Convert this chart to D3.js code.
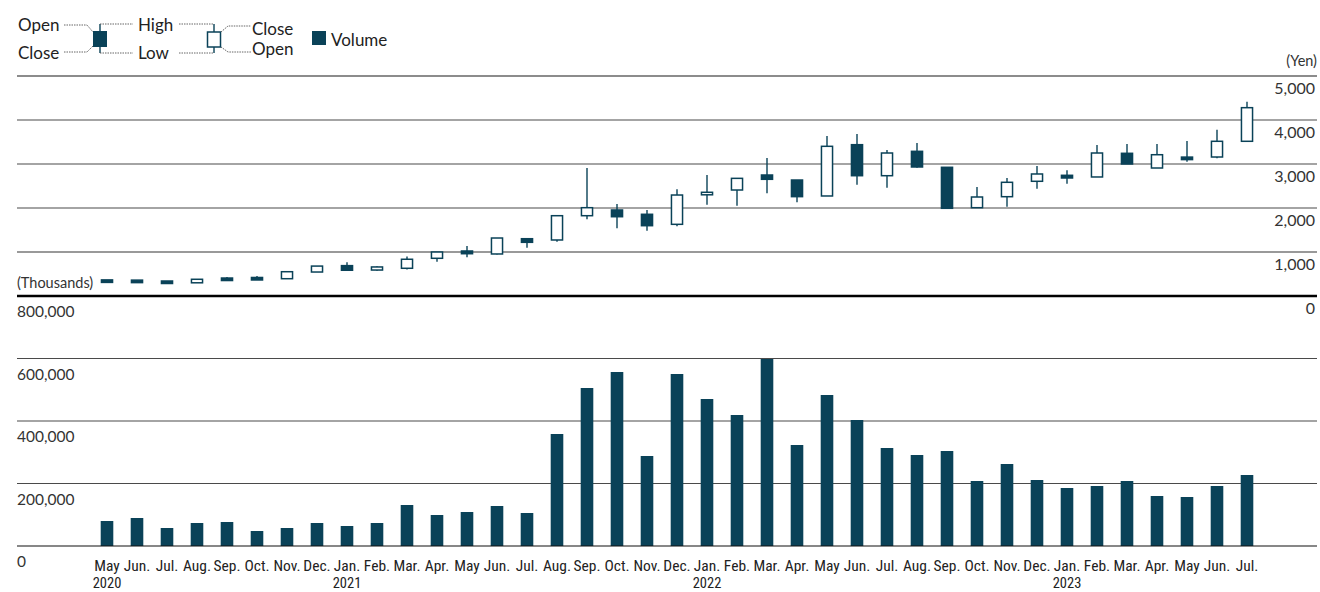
<!DOCTYPE html>
<html>
<head>
<meta charset="utf-8">
<script src="https://cdn.jsdelivr.net/npm/d3@7"></script>
<style>
  body { margin: 0; background: #fff; }
  svg { display: block; font-family: Lato, "Open Sans", sans-serif; }
  .month { font-family: "Liberation Sans Narrow", "Roboto Condensed", Lato, sans-serif; }
</style>
</head>
<body>
<div id="chart"></div>
<script>
// Monthly candles, May 2020 - Jul 2023
var months = ["May", "Jun.", "Jul.", "Aug.", "Sep.", "Oct.", "Nov.", "Dec.",
    "Jan.", "Feb.", "Mar.", "Apr.", "May", "Jun.", "Jul.", "Aug.", "Sep.", "Oct.", "Nov.", "Dec.",
    "Jan.", "Feb.", "Mar.", "Apr.", "May", "Jun.", "Jul.", "Aug.", "Sep.", "Oct.", "Nov.", "Dec.",
    "Jan.", "Feb.", "Mar.", "Apr.", "May", "Jun.", "Jul."];
var years = ["2020", "", "", "", "", "", "", "",
    "2021", "", "", "", "", "", "", "", "", "", "", "",
    "2022", "", "", "", "", "", "", "", "", "", "", "",
    "2023", "", "", "", "", "", ""];

var open = [345, 340, 320, 300, 390, 400, 393, 545,
    690, 590, 630, 857, 1023, 955, 1302, 1273, 1825, 1955, 1857, 1629,
    2300, 2409, 2750, 2636, 2273, 3439, 2734, 3288, 2925, 2007, 2257, 2607,
    2743, 2705, 3243, 2909, 3143, 3159, 3516];
var close = [330, 325, 305, 380, 370, 385, 552, 680,
    585, 660, 835, 1000, 961, 1318, 1220, 1825, 2007, 1802, 1598, 2295,
    2357, 2674, 2652, 2258, 3402, 2734, 3250, 2932, 1993, 2250, 2584, 2773,
    2682, 3250, 3000, 3211, 3114, 3516, 4280];
var high = [365, 355, 330, 385, 430, 455, 552, 680,
    765, 675, 900, 1000, 1136, 1318, 1302, 1840, 2909, 2090, 1955, 2424,
    2750, 2674, 3136, 2636, 3636, 3682, 3318, 3477, 2925, 2477, 2682, 2955,
    2856, 3432, 3455, 3455, 3523, 3780, 4416];
var low = [315, 315, 285, 295, 365, 380, 393, 545,
    585, 575, 600, 780, 880, 945, 1098, 1235, 1743, 1538, 1485, 1584,
    2075, 2052, 2334, 2129, 2273, 2530, 2462, 2916, 1993, 2007, 2030, 2439,
    2553, 2705, 3000, 2909, 3052, 3129, 3516];
// thousands of shares
var volume = [80000, 89600, 57600, 73600, 76800, 48000, 57600, 73600,
    64000, 73600, 131200, 99200, 108800, 128000, 105600, 358400, 505600, 556800, 288000, 550400,
    470400, 419200, 598400, 323200, 483200, 403200, 313600, 291200, 304000, 208000, 262400, 211200,
    185600, 192000, 208000, 160000, 156800, 192000, 227200];

var priceTicks = [0, 1000, 2000, 3000, 4000, 5000];
var volumeTicks = [0, 200000, 400000, 600000, 800000];

var W = 1320, H = 592;
var dark = "#0a4258";
var left = 17, right = 1317;

var svg = d3.select("#chart").append("svg")
    .attr("width", W)
    .attr("height", H);

var x = d3.scaleBand()
    .domain(d3.range(months.length))
    .range([92, 1262])
    .paddingInner(0.58)
    .paddingOuter(0.29);

var yP = d3.scaleLinear().domain([0, 5000]).range([296, 76]);
var yV = d3.scaleLinear().domain([0, 800000]).range([546, 296]);
var fmt = d3.format(",");

// price grid
svg.selectAll("line.pgrid")
    .data(priceTicks.filter(function(d) { return d > 0; }))
    .enter().append("line")
    .attr("class", "pgrid")
    .attr("x1", left).attr("x2", right)
    .attr("y1", function(d) { return yP(d); })
    .attr("y2", function(d) { return yP(d); })
    .attr("stroke", function(d) { return d == 5000 ? "#1a1a1a" : (d == 1000 ? "#777" : "#4a4a4a"); })
    .attr("stroke-width", function(d) { return d == 1000 ? 1.5 : 1.1; });

svg.selectAll("text.plab")
    .data(priceTicks)
    .enter().append("text")
    .attr("class", "plab")
    .attr("x", 1315)
    .attr("y", function(d) { return yP(d) + 18; })
    .attr("text-anchor", "end")
    .style("font-size", "16px")
    .style("fill", "#333")
    .text(function(d) { return fmt(d); });

svg.append("text")
    .attr("x", 1317).attr("y", 66)
    .attr("text-anchor", "end")
    .style("font-size", "14.5px")
    .style("fill", "#333")
    .text("(Yen)");

// volume grid
svg.selectAll("line.vgrid")
    .data(volumeTicks.filter(function(d) { return d > 0 && d < 800000; }))
    .enter().append("line")
    .attr("class", "vgrid")
    .attr("x1", left).attr("x2", right)
    .attr("y1", function(d) { return yV(d); })
    .attr("y2", function(d) { return yV(d); })
    .attr("stroke", "#4a4a4a")
    .attr("stroke-width", 1.1);

svg.selectAll("text.vlab")
    .data(volumeTicks)
    .enter().append("text")
    .attr("class", "vlab")
    .attr("x", left)
    .attr("y", function(d) { return yV(d) + 21; })
    .style("font-size", "15.5px")
    .style("fill", "#333")
    .text(function(d) { return fmt(d); });

svg.append("text")
    .attr("x", left).attr("y", 288)
    .style("font-size", "14.5px")
    .style("fill", "#333")
    .text("(Thousands)");

// volume bars
svg.selectAll("rect.vol")
    .data(volume)
    .enter().append("rect")
    .attr("class", "vol")
    .attr("x", function(d, i) { return x(i); })
    .attr("y", function(d) { return yV(d); })
    .attr("width", x.bandwidth())
    .attr("height", function(d) { return yV(0) - yV(d); })
    .attr("fill", dark);

svg.append("line")
    .attr("x1", left).attr("x2", right)
    .attr("y1", yV(0)).attr("y2", yV(0))
    .attr("stroke", "#111").attr("stroke-width", 1.2);

// candles
var candles = open.map(function(o, i) {
    return { i: i, open: o, close: close[i], high: high[i], low: low[i] };
});
var g = svg.selectAll("g.candle")
    .data(candles)
    .enter().append("g")
    .attr("class", "candle");

g.append("line")
    .attr("x1", function(d) { return x(d.i) + x.bandwidth() / 2; })
    .attr("x2", function(d) { return x(d.i) + x.bandwidth() / 2; })
    .attr("y1", function(d) { return yP(d.high); })
    .attr("y2", function(d) { return yP(d.low); })
    .attr("stroke", dark)
    .attr("stroke-width", 1.4);

g.append("rect")
    .attr("x", function(d) { return x(d.i) + 0.75; })
    .attr("y", function(d) {
        var top = yP(Math.max(d.open, d.close)), bot = yP(Math.min(d.open, d.close));
        return bot - top < 2.5 ? (top + bot) / 2 - 1.25 : top;
    })
    .attr("width", x.bandwidth() - 1.5)
    .attr("height", function(d) {
        return Math.max(2.5, Math.abs(yP(d.open) - yP(d.close)));
    })
    .attr("fill", function(d) { return d.close < d.open ? dark : "#fff"; })
    .attr("stroke", dark)
    .attr("stroke-width", 1.5);

// thick divider between the two panels
svg.append("line")
    .attr("x1", left).attr("x2", right)
    .attr("y1", yP(0)).attr("y2", yP(0))
    .attr("stroke", "#000").attr("stroke-width", 2.5);

// month / year labels
svg.selectAll("text.month")
    .data(months)
    .enter().append("text")
    .attr("class", "month")
    .attr("x", function(d, i) { return x(i) + x.bandwidth() / 2; })
    .attr("y", 571)
    .attr("text-anchor", "middle")
    .style("font-size", "15.5px")
    .style("fill", "#222")
    .text(function(d) { return d; });

svg.selectAll("text.year")
    .data(years)
    .enter().append("text")
    .attr("class", "month")
    .attr("x", function(d, i) { return x(i) + x.bandwidth() / 2; })
    .attr("y", 588)
    .attr("text-anchor", "middle")
    .style("font-size", "14.5px")
    .style("fill", "#222")
    .text(function(d) { return d; });

// legend
var lg = svg.append("g").attr("class", "legend");
var dot = { stroke: "#555", "stroke-width": 0.9, "stroke-dasharray": "1.5,1", fill: "none" };
function path(dstr) {
    var p = lg.append("path").attr("d", dstr);
    for (var k in dot) p.attr(k, dot[k]);
}
function ltext(tx, ty, s, anchor) {
    lg.append("text").attr("x", tx).attr("y", ty)
        .attr("text-anchor", anchor || "start")
        .style("font-size", "17px").style("fill", "#222").text(s);
}
// filled candle (close below open)
lg.append("line").attr("x1", 100).attr("x2", 100).attr("y1", 24).attr("y2", 53)
    .attr("stroke", dark).attr("stroke-width", 1.4);
lg.append("rect").attr("x", 93).attr("y", 31).attr("width", 14).attr("height", 16).attr("fill", dark);
path("M64,25H87L93,32");
path("M64,52H87L93,46");
path("M100,24H133");
path("M100,53H133");
ltext(18, 31, "Open");
ltext(18, 59, "Close");
ltext(138, 31, "High");
ltext(138, 59, "Low");
// hollow candle (close above open)
lg.append("line").attr("x1", 214).attr("x2", 214).attr("y1", 24).attr("y2", 53)
    .attr("stroke", dark).attr("stroke-width", 1.4);
lg.append("rect").attr("x", 207.5).attr("y", 32).attr("width", 13).attr("height", 15)
    .attr("fill", "#fff").attr("stroke", dark).attr("stroke-width", 1.5);
path("M179,24H214");
path("M179,53H214");
path("M221,32L228,26H251");
path("M221,47L228,52H251");
ltext(252, 35, "Close");
ltext(252, 55, "Open");
// volume key
lg.append("rect").attr("x", 312).attr("y", 31).attr("width", 14).attr("height", 14).attr("fill", dark);
ltext(331, 46, "Volume");
</script>
</body>
</html>
